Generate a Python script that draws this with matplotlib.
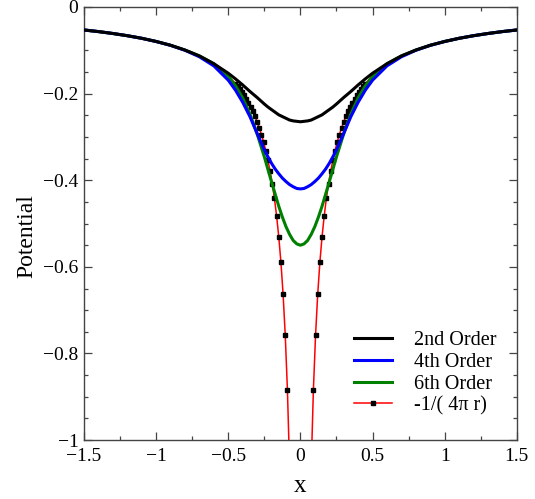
import numpy as np
import matplotlib.pyplot as plt
from matplotlib.ticker import MultipleLocator

plt.rcParams['font.family'] = ['Liberation Serif', 'DejaVu Serif']
plt.rcParams['axes.unicode_minus'] = True

# ========================
# DATA (one side, x >= 0; curves are symmetric about x = 0)
# ========================
x_half = [0.0, 0.025, 0.05, 0.075, 0.1, 0.125, 0.15, 0.175, 0.2, 0.225, 0.25,
          0.3, 0.35, 0.4, 0.45, 0.5,
          0.6, 0.7, 0.8, 0.9, 1.0, 1.1, 1.2, 1.3, 1.4, 1.5]

order2 = [-0.265, -0.264, -0.263, -0.261, -0.257, -0.253, -0.249, -0.243, -0.237, -0.231, -0.224,
          -0.209, -0.195, -0.180, -0.166, -0.153,
          -0.131, -0.113, -0.0994, -0.0884, -0.0796, -0.0723, -0.0663, -0.0612, -0.0568, -0.0531]

order4 = [-0.420, -0.419, -0.415, -0.410, -0.403, -0.395, -0.385, -0.374, -0.361, -0.346, -0.330,
          -0.292, -0.253, -0.220, -0.192, -0.169,
          -0.136, -0.115, -0.1000, -0.0886, -0.0797, -0.0723, -0.0663, -0.0612, -0.0568, -0.0531]

order6 = [-0.550, -0.547, -0.539, -0.525, -0.507, -0.485, -0.460, -0.432, -0.404, -0.375, -0.346,
          -0.293, -0.247, -0.210, -0.182, -0.160,
          -0.131, -0.113, -0.0995, -0.0884, -0.0796, -0.0723, -0.0663, -0.0612, -0.0568, -0.0531]

# exact -1/(4 pi r), sampled every 0.015 near the core, coarser further out
exact_x = [0.075, 0.09, 0.105, 0.12, 0.135, 0.15, 0.165, 0.18, 0.195, 0.21, 0.225, 0.24,
           0.255, 0.27, 0.285, 0.30, 0.315, 0.33, 0.345, 0.36, 0.375, 0.39, 0.405, 0.42,
           0.435, 0.45, 0.5, 0.6, 0.7, 0.8, 0.9, 1.0, 1.1, 1.2, 1.3, 1.4, 1.5]
exact_y = [-1.061, -0.8842, -0.7579, -0.6631, -0.5895, -0.5305, -0.4823, -0.4421, -0.4081,
           -0.3789, -0.3537, -0.3316, -0.3121, -0.2947, -0.2792, -0.2653, -0.2526, -0.2411,
           -0.2307, -0.2210, -0.2122, -0.2040, -0.1965, -0.1895, -0.1829, -0.1768, -0.1592,
           -0.1326, -0.1137, -0.0995, -0.0884, -0.0796, -0.0723, -0.0663, -0.0612, -0.0568, -0.0531]
n_marked = 26  # markers on the finely sampled points only

xtick_vals = [-1.5, -1, -0.5, 0, 0.5, 1, 1.5]
xtick_labels = ['\u22121.5', '\u22121', '\u22120.5', '0', '0.5', '1', '1.5']
ytick_vals = [0, -0.2, -0.4, -0.6, -0.8, -1]
ytick_labels = ['0', '\u22120.2', '\u22120.4', '\u22120.6', '\u22120.8', '\u22121']


def mirror(xs, ys):
    """Build a symmetric curve from the x >= 0 half."""
    xs = np.asarray(xs, dtype=float)
    ys = np.asarray(ys, dtype=float)
    return np.concatenate([-xs[:0:-1], xs]), np.concatenate([ys[:0:-1], ys])


fig = plt.figure(figsize=(5.35, 4.99), dpi=100)
ax = fig.add_axes([0.157, 0.118, 0.809, 0.868])

# exact solution, two branches (singular at r = 0)
ex = np.asarray(exact_x)
ey = np.asarray(exact_y)
mk = dict(color='red', lw=1.1, marker='s', ms=2.2, mfc='black', mec='black',
          markevery=list(range(n_marked)), zorder=1)
ax.plot(ex, ey, label='-1/( 4\u03c0 r)', **mk)
ax.plot(-ex, ey, **mk)

xs, y6 = mirror(x_half, order6)
_, y4 = mirror(x_half, order4)
_, y2 = mirror(x_half, order2)
ax.plot(xs, y6, color='#008000', lw=2.2, zorder=2, label='6th Order')
ax.plot(xs, y4, color='#0000ff', lw=2.2, zorder=3, label='4th Order')
ax.plot(xs, y2, color='black', lw=2.2, zorder=4, label='2nd Order')

ax.set_xlim(-1.5, 1.5)
ax.set_ylim(-1, 0)
ax.set_xticks(xtick_vals)
ax.set_xticklabels(xtick_labels)
ax.set_yticks(ytick_vals)
ax.set_yticklabels(ytick_labels)
ax.xaxis.set_minor_locator(MultipleLocator(0.25))
ax.yaxis.set_minor_locator(MultipleLocator(0.05))
ax.tick_params(which='both', direction='in', top=True, right=True,
               color='#444444', labelsize=14)
ax.tick_params(axis='x', pad=6)
ax.tick_params(axis='y', pad=4)
ax.tick_params(which='major', length=6, width=0.9)
ax.tick_params(which='minor', length=3, width=0.9)
for sp in ax.spines.values():
    sp.set_color('#444444')
    sp.set_linewidth(1.0)

ax.set_xlabel('x', fontsize=18, labelpad=7)
ax.set_ylabel('Potential', fontsize=17)
ax.yaxis.set_label_coords(-0.108, 0.47)

handles, labels = ax.get_legend_handles_labels()
order = [3, 2, 1, 0]
ax.legend([handles[i] for i in order], [labels[i] for i in order],
          loc='lower right', bbox_to_anchor=(0.995, 0.015), frameon=False,
          fontsize=14.5, handlelength=1.9, labelspacing=0.13, handletextpad=1.1)

fig.savefig('out.png', dpi=100)
